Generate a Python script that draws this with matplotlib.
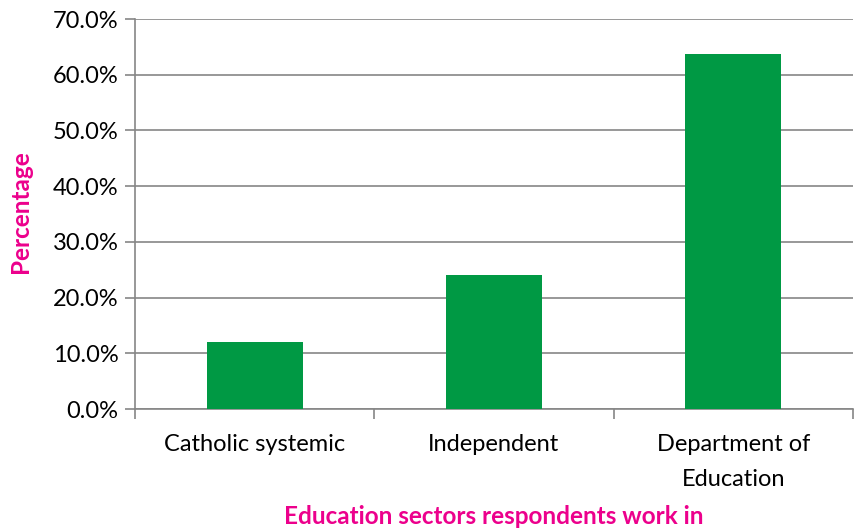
import numpy as np
import matplotlib.pyplot as plt
from matplotlib.ticker import FuncFormatter

# data
categories = ["Catholic systemic", "Independent", "Department of\nEducation"]
percentages = [12.0, 24.0, 63.8]

plt.rcParams['font.family'] = ['Lato', 'DejaVu Sans']

fig = plt.figure(figsize=(8.58, 5.31), dpi=100)
ax = fig.add_axes([135 / 858, 1 - 409 / 531, 718 / 858, 390 / 531])

x = np.arange(len(categories))
ax.bar(x, percentages, width=0.4, color="#009944", zorder=3)

ax.set_xlim(-0.5, len(categories) - 0.5)
ax.set_ylim(0, 70)
ax.set_yticks(np.arange(0, 71, 10))
ax.yaxis.set_major_formatter(FuncFormatter(lambda v, p: f"{v:.1f}%"))
ax.grid(axis="y", color="#868686", linewidth=1.2, zorder=0)

# category labels in the middle, ticks between categories
ax.set_xticks(np.arange(-0.5, len(categories)))
ax.set_xticklabels([])
ax.set_xticks(x, minor=True)
ax.set_xticklabels(categories, minor=True, fontsize=17, linespacing=1.8)
ax.tick_params(axis="x", which="minor", length=0, pad=18)
ax.tick_params(axis="x", which="major", length=7, color="#868686", width=1.2)
ax.tick_params(axis="y", length=7, color="#868686", width=1.2, labelsize=17, pad=5)

for s in ["top", "right"]:
    ax.spines[s].set_visible(False)
for s in ["left", "bottom"]:
    ax.spines[s].set_color("#868686")
    ax.spines[s].set_linewidth(1.2)

fig.text(20 / 858, 1 - 212 / 531, "Percentage", rotation=90,
         color="#EC008C", fontsize=17.5, fontweight="bold", ha="center", va="center")
fig.text(494 / 858, 1 - 517 / 531, "Education sectors respondents work in",
         color="#EC008C", fontsize=17.5, fontweight="bold", ha="center", va="center")

fig.savefig("out.png", dpi=100)
